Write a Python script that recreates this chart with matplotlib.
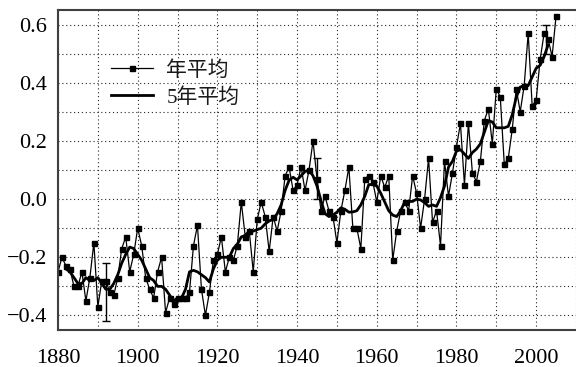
import numpy as np
import matplotlib
matplotlib.use("Agg")
import matplotlib.pyplot as plt
from matplotlib.ticker import MultipleLocator

plt.rcParams['font.family'] = ['Liberation Serif', 'Noto Sans CJK SC', 'DejaVu Sans']

years = list(range(1880, 2006))
annual = [
    -0.25, -0.20, -0.23, -0.24, -0.30, -0.30, -0.25, -0.35, -0.27, -0.15,  # 1880s
    -0.37, -0.28, -0.28, -0.32, -0.33, -0.27, -0.17, -0.13, -0.25, -0.19,  # 1890s
    -0.10, -0.16, -0.27, -0.31, -0.34, -0.25, -0.20, -0.39, -0.34, -0.36,  # 1900s
    -0.34, -0.34, -0.34, -0.32, -0.16, -0.09, -0.31, -0.40, -0.32, -0.21,  # 1910s
    -0.19, -0.13, -0.25, -0.20, -0.21, -0.16, -0.01, -0.13, -0.11, -0.25,  # 1920s
    -0.07, -0.01, -0.06, -0.18, -0.06, -0.11, -0.04, 0.08, 0.11, 0.03,     # 1930s
    0.05, 0.11, 0.03, 0.10, 0.20, 0.07, -0.04, 0.01, -0.04, -0.06,         # 1940s
    -0.15, -0.04, 0.03, 0.11, -0.10, -0.10, -0.17, 0.07, 0.08, 0.06,       # 1950s
    -0.01, 0.08, 0.04, 0.08, -0.21, -0.11, -0.04, -0.01, -0.04, 0.08,      # 1960s
    0.02, -0.10, 0.00, 0.14, -0.08, -0.04, -0.16, 0.13, 0.01, 0.09,        # 1970s
    0.18, 0.26, 0.05, 0.26, 0.09, 0.06, 0.13, 0.27, 0.31, 0.19,            # 1980s
    0.38, 0.35, 0.12, 0.14, 0.24, 0.38, 0.30, 0.39, 0.57, 0.32,            # 1990s
    0.34, 0.48, 0.57, 0.55, 0.49, 0.63,                                    # 2000s
]

years5 = list(range(1882, 2004))
mean5 = [
    -0.24, -0.25, -0.27, -0.29, -0.29, -0.27, -0.28, -0.28,                # 1882-1889
    -0.27, -0.29, -0.31, -0.31, -0.29, -0.26, -0.22, -0.19, -0.165, -0.17,  # 1890s
    -0.19, -0.21, -0.24, -0.27, -0.28, -0.30, -0.30, -0.31, -0.33, -0.35,  # 1900s
    -0.34, -0.34, -0.31, -0.25, -0.245, -0.25, -0.26, -0.27, -0.285, -0.24,  # 1910s
    -0.21, -0.20, -0.20, -0.20, -0.17, -0.155, -0.13, -0.125, -0.11, -0.11,  # 1920s
    -0.105, -0.10, -0.085, -0.075, -0.07, -0.05, -0.02, 0.03, 0.065, 0.075,  # 1930s
    0.066, 0.08, 0.095, 0.10, 0.08, 0.045, -0.005, -0.05, -0.06, -0.055,   # 1940s
    -0.045, -0.03, -0.035, -0.045, -0.044, -0.04, -0.02, 0.01, 0.05, 0.05,  # 1950s
    0.045, 0.02, -0.01, -0.04, -0.055, -0.06, -0.04, -0.01, -0.008, -0.008,  # 1960s
    0.0, -0.003, -0.012, -0.025, -0.02, -0.025, 0.005, 0.045, 0.11, 0.13,  # 1970s
    0.165, 0.17, 0.155, 0.14, 0.16, 0.172, 0.19, 0.23, 0.27, 0.265,        # 1980s
    0.245, 0.245, 0.245, 0.25, 0.29, 0.35, 0.385, 0.39, 0.39, 0.42,        # 1990s
    0.45, 0.46, 0.49, 0.53,                                                # 2000-2003
]

err_years = [1892, 1945, 2002.5]
err_mid = [-0.32, 0.07, 0.55]
err_half = [0.10, 0.07, 0.05]

fig = plt.figure(figsize=(5.76, 3.67), dpi=100)
ax = fig.add_axes([58 / 576, 37 / 367, 1 - 58 / 576, 320 / 367])

ax.plot(years, annual, color='black', lw=0.9, marker='s', markersize=3.6,
        label='年平均')
ax.plot(years5, mean5, color='black', lw=2.0, label='5年平均')
ax.errorbar(err_years, err_mid, yerr=err_half, fmt='none', ecolor='black',
            elinewidth=1.0, capsize=3, capthick=1.0)

ax.set_xlim(1880, 2010)
ax.set_ylim(-0.45, 0.65)
ax.xaxis.set_major_locator(MultipleLocator(20))
ax.xaxis.set_minor_locator(MultipleLocator(10))
ax.yaxis.set_major_locator(MultipleLocator(0.2))
ax.yaxis.set_minor_locator(MultipleLocator(0.1))
ax.grid(True, which='both', color='0.15', linestyle=(0, (1, 2.5)), lw=0.8)
ax.set_axisbelow(True)

ax.tick_params(which='both', length=0, labelsize=16)
ax.tick_params(axis='x', pad=14)
ax.tick_params(axis='y', pad=8)
ax.set_yticks([-0.4, -0.2, 0.0, 0.2, 0.4, 0.6])
ax.set_yticklabels(['\u22120.4', '\u22120.2', '0.0', '0.2', '0.4', '0.6'])

for side in ['left', 'top', 'bottom']:
    ax.spines[side].set_color('0.25')
    ax.spines[side].set_linewidth(1.5)
ax.spines['right'].set_visible(False)

leg = ax.legend(loc='upper left', bbox_to_anchor=(111 / 576, 1 - 61 / 367),
                bbox_transform=fig.transFigure, frameon=False, borderpad=0,
                borderaxespad=0, handlelength=2.0, handletextpad=0.65,
                labelspacing=0.35, markerscale=1.0, numpoints=1,
                prop={'family': ['Noto Sans CJK SC'], 'size': 15})
for t in leg.get_texts():
    t.set_family(['Liberation Serif', 'Noto Sans CJK SC'])
    t.set_color('0.1')

fig.savefig('out.png', dpi=100)
